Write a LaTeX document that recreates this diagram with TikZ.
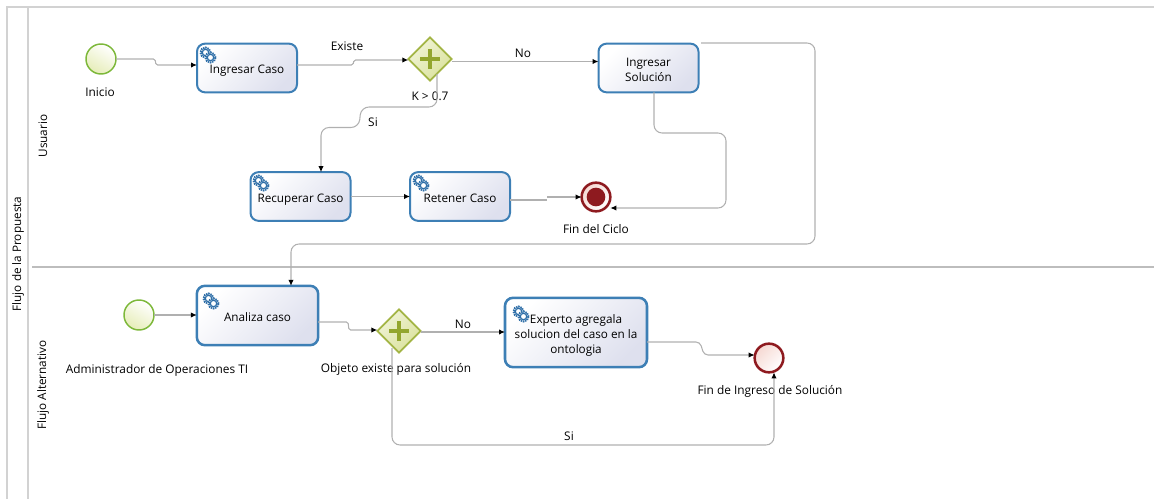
\documentclass[tikz,border=0pt]{standalone}
\usepackage{fontspec}
\setmainfont{Open Sans}
\usetikzlibrary{shapes.geometric,arrows.meta}
\definecolor{lane1}{HTML}{D2D2D2}
\definecolor{lane2}{HTML}{BDBDBD}
\definecolor{flow1}{HTML}{B0B0B0}
\definecolor{task1}{HTML}{3D7FB5}
\definecolor{task2}{HTML}{DEE0EE}
\definecolor{start1}{HTML}{7DB83A}
\definecolor{start2}{HTML}{E6EDB8}
\definecolor{end1}{HTML}{8E1A1F}
\definecolor{end2}{HTML}{F6D8D2}
\definecolor{gate1}{HTML}{A3B545}
\definecolor{gate2}{HTML}{DAE29C}
\definecolor{gate3}{HTML}{93A62E}
\definecolor{gear1}{HTML}{2F6FA8}
\newcommand{\tasktxt}[1]{\raisebox{-2pt}[\height][\depth]{\begin{tabular}{@{}c@{}}#1\end{tabular}}}
\tikzset{
  taskbox/.style={draw=task1, line width=1.5pt, rounded corners=6pt, top color=white, bottom color=task2, shading angle=45, inner sep=0pt, outer sep=0pt, minimum width=75pt, minimum height=36.5pt, font=\fontsize{8.8}{11.3}\selectfont},
  startev/.style={circle, draw=start1, line width=1.1pt, top color=white, bottom color=start2, shading angle=-30, inner sep=0pt, outer sep=0pt, minimum size=22.5pt},
  endev/.style={circle, draw=end1, line width=1.9pt, top color=end2, bottom color=white, shading angle=45, inner sep=0pt, outer sep=0pt, minimum size=21.5pt},
  gatebox/.style={diamond, draw=gate1, line width=1.3pt, top color=white!60!gate2, bottom color=gate2, shading angle=45, aspect=1, inner sep=0pt, outer sep=0pt, minimum size=32.5pt},
  gateplus/.style={draw=gate3, line width=2.5pt},
  lanelabel/.style={rotate=90, font=\fontsize{8.8}{10}\selectfont},
  txt/.style={font=\fontsize{8.9}{10}\selectfont, inner sep=0pt},
  flow/.style={draw=flow1, line width=0.8pt, rounded corners=6pt, -{Latex[black,length=4.5pt,width=4pt]}},
  jog/.style={rounded corners=1.2pt},
  gearicon/.pic={
    \foreach \cx/\cy in {-2.5/-2.5,2.5/2.5}{
      \fill[white] (\cx,\cy) circle (5.5);
      \draw[gear1, line width=1.5pt, dash pattern=on 1.1pt off 0.6pt] (\cx,\cy) circle (5);
      \draw[gear1, line width=0.9pt] (\cx,\cy) circle (3.2);
    }
  }
}
\begin{document}
\begin{tikzpicture}[x=0.75pt, y=-0.75pt]
\useasboundingbox (0,0) rectangle (1154,499);
%% carriles
\draw[lane1, line width=1.1pt] (1154,7) -- (7,7) -- (7,499);
\draw[lane1, line width=1.1pt] (28,7) -- (28,499);
\draw[lane2, line width=1.3pt] (32,267) -- (1154,267);
\node[lanelabel] (flujo) at (18,254) {Flujo de la Propuesta};
\node[lanelabel] (usuario) at (43,136) {Usuario};
\node[lanelabel] (alterno) at (43,385) {Flujo Alternativo};
%% carril usuario
\node[startev] (inicio) at (101,59) {};
\node[taskbox] (ingcaso) at (247,68) {\tasktxt{Ingresar Caso}};
\node[gatebox] (gw1) at (430,59) {};
\node[taskbox] (ingsol) at (648.5,68) {\tasktxt{Ingresar\\Solución}};
\node[taskbox] (recup) at (300.5,196.5) {\tasktxt{Recuperar Caso}};
\node[taskbox] (reten) at (460,196.5) {\tasktxt{Retener Caso}};
\node[endev] (finciclo) at (596,197) {};
\node[circle, fill=end1, minimum size=14pt, inner sep=0pt] (finciclo2) at (finciclo) {};
%% carril alternativo
\node[startev] (inicio2) at (139,315) {};
\node[taskbox, line width=1.9pt, minimum width=91pt, minimum height=44.5pt] (analiza) at (257.5,315.5) {\tasktxt{Analiza caso}};
\node[gatebox] (gw2) at (399,331) {};
\node[taskbox, line width=1.9pt, minimum width=106.5pt, minimum height=52pt] (experto) at (576,332.5) {\tasktxt{Experto agregala\\solucion del caso en la\\ontologia}};
\node[endev] (finsol) at (769,358) {};
%% marcas
\foreach \g in {gw1,gw2}{
  \draw[gateplus] ([xshift=-7.5pt]\g.center) -- ([xshift=7.5pt]\g.center);
  \draw[gateplus] ([yshift=-7.5pt]\g.center) -- ([yshift=7.5pt]\g.center);
}
\path (208,55) pic {gearicon};
\path (261,183) pic {gearicon};
\path (421,183) pic {gearicon};
\path (211,301) pic {gearicon};
\path (521,314) pic {gearicon};
%% textos
\node[txt] (t1) at (100,92) {Inicio};
\node[txt] (t2) at (347,46) {Existe};
\node[txt] (t3) at (523,53) {No};
\node[txt] (t4) at (430,96) {K > 0.7};
\node[txt] (t5) at (373,122) {Si};
\node[txt] (t6) at (596,229) {Fin del Ciclo};
\node[txt] (t7) at (157,370) {Administrador de Operaciones TI};
\node[txt] (t8) at (396,369) {Objeto existe para solución};
\node[txt] (t9) at (463,324) {No};
\node[txt] (t10) at (569,436) {Si};
\node[txt] (t11) at (770,391) {Fin de Ingreso de Solución};
%% conectores
\draw[flow, jog] (inicio.east) -- (155,59) -- (156,65) -- (ingcaso.west |- 0,65);
\draw[flow, jog] (ingcaso.east |- 0,65) -- (353,65) -- (354,60) -- (gw1.west |- 0,60);
\draw[flow] (gw1.east |- 0,61.5) -- (ingsol.west |- 0,61.5);
\draw[flow] (437,74) -- (437,107) -- (361,107) -- (359,127.5) -- (321,127.5) -- (recup.north -| 321,0);
\draw[flow] (recup.east) -- (reten.west);
\draw[flow, -] (reten.east |- 0,200) -- (547,200);
\draw[flow] (547,197) -- (finciclo.west);
\draw[flow] (ingsol.south -| 654,0) -- (654,133) -- (726,133) -- (726,208) -- (finciclo.east |- 0,208);
\draw[flow] (701,43) -- (815,43) -- (815,244) -- (291,244) -- (analiza.north -| 291,0);
\draw[flow] (inicio2.east) -- (analiza.west |- 0,315);
\draw[flow, jog] (analiza.east |- 0,322) -- (348,322) -- (349,330) -- (gw2.west |- 0,330);
\draw[flow] (gw2.east |- 0,332) -- (experto.west |- 0,332);
\draw[flow] (392,348) -- (392,445) -- (774,445) -- (finsol.south -| 774,0);
\draw[flow, rounded corners=3pt] (experto.east |- 0,342) -- (700,342) -- (704,355) -- (finsol.west |- 0,355);
\end{tikzpicture}
\end{document}
